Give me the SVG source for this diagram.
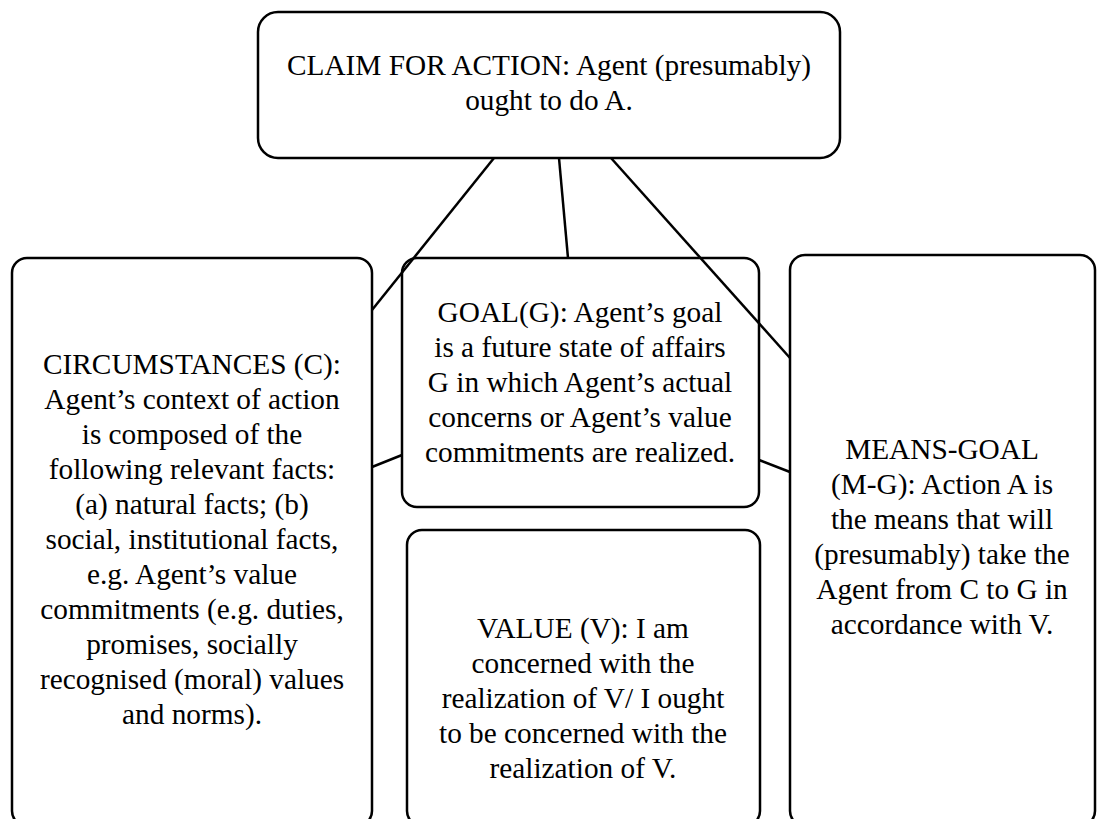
<svg xmlns="http://www.w3.org/2000/svg" width="1097" height="819" viewBox="0 0 1097 819">
  <style>
    .box { fill: none; stroke: #000; stroke-width: 2.5; }
    .link { stroke: #000; stroke-width: 2.5; fill: none; }
    .label { font-size: 29.3px; fill: #000; text-anchor: middle; }
  </style>
  <rect width="1097" height="819" fill="#fff"/>

  <g id="claim" class="label" style="font-family: 'Liberation Serif', serif">
    <rect class="box" x="258" y="12" width="582" height="146" rx="20"/>
    <text x="549" y="75">CLAIM FOR ACTION: Agent (presumably)</text>
    <text x="549" y="110">ought to do A.</text>
  </g>

  <g id="circumstances" class="label" style="font-family: 'Liberation Serif', serif">
    <rect class="box" x="12" y="258" width="360" height="568" rx="15"/>
    <text x="192" y="374">CIRCUMSTANCES (C):</text>
    <text x="192" y="409">Agent’s context of action</text>
    <text x="192" y="444">is composed of the</text>
    <text x="192" y="479">following relevant facts:</text>
    <text x="192" y="514">(a) natural facts; (b)</text>
    <text x="192" y="549">social, institutional facts,</text>
    <text x="192" y="584">e.g. Agent’s value</text>
    <text x="192" y="619">commitments (e.g. duties,</text>
    <text x="192" y="654">promises, socially</text>
    <text x="192" y="689">recognised (moral) values</text>
    <text x="192" y="724">and norms).</text>
  </g>

  <g id="goal" class="label" style="font-family: 'Liberation Serif', serif">
    <rect class="box" x="402" y="258" width="357" height="249" rx="15"/>
    <text x="580" y="322">GOAL(G): Agent’s goal</text>
    <text x="580" y="357">is a future state of affairs</text>
    <text x="580" y="392">G in which Agent’s actual</text>
    <text x="580" y="427">concerns or Agent’s value</text>
    <text x="580" y="462">commitments are realized.</text>
  </g>

  <g id="value" class="label" style="font-family: 'Liberation Serif', serif">
    <rect class="box" x="407" y="530" width="353" height="296" rx="15"/>
    <text x="583" y="638">VALUE (V): I am</text>
    <text x="583" y="673">concerned with the</text>
    <text x="583" y="708">realization of V/ I ought</text>
    <text x="583" y="743">to be concerned with the</text>
    <text x="583" y="778">realization of V.</text>
  </g>

  <g id="means-goal" class="label" style="font-family: 'Liberation Serif', serif">
    <rect class="box" x="790" y="255" width="305" height="571" rx="15"/>
    <text x="942" y="459">MEANS-GOAL</text>
    <text x="942" y="494">(M-G): Action A is</text>
    <text x="942" y="529">the means that will</text>
    <text x="942" y="564">(presumably) take the</text>
    <text x="942" y="599">Agent from C to G in</text>
    <text x="942" y="634">accordance with V.</text>
  </g>

  <g id="connectors">
    <line class="link" x1="494" y1="158" x2="372" y2="310"/>
    <line class="link" x1="559" y1="158" x2="568" y2="258"/>
    <line class="link" x1="611" y1="158" x2="790" y2="358"/>
    <line class="link" x1="372" y1="467" x2="402" y2="455"/>
    <line class="link" x1="759" y1="460" x2="790" y2="472"/>
  </g>
</svg>
